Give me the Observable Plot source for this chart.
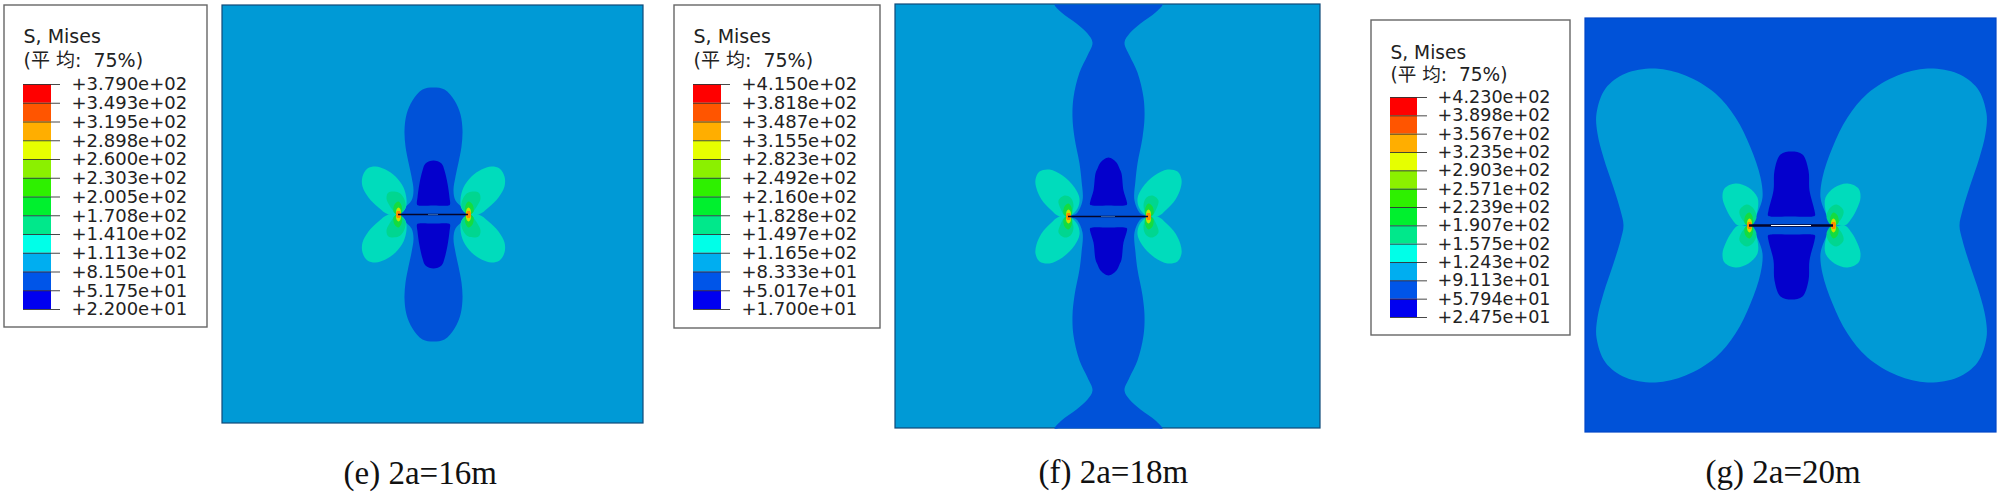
<!DOCTYPE html>
<html>
<head>
<meta charset="utf-8">
<script src="https://cdn.jsdelivr.net/npm/d3@7"></script>
<script src="https://cdn.jsdelivr.net/npm/@observablehq/plot@0.6"></script>
<style>html,body{margin:0;padding:0;background:#fff;overflow:hidden}svg{display:block}</style>
</head>
<body>
<div id="chart"></div>
<script>
// Legend values
const labelsE = ["+3.790e+02","+3.493e+02","+3.195e+02","+2.898e+02","+2.600e+02","+2.303e+02","+2.005e+02","+1.708e+02","+1.410e+02","+1.113e+02","+8.150e+01","+5.175e+01","+2.200e+01"];
const labelsF = ["+4.150e+02","+3.818e+02","+3.487e+02","+3.155e+02","+2.823e+02","+2.492e+02","+2.160e+02","+1.828e+02","+1.497e+02","+1.165e+02","+8.333e+01","+5.017e+01","+1.700e+01"];
const labelsG = ["+4.230e+02","+3.898e+02","+3.567e+02","+3.235e+02","+2.903e+02","+2.571e+02","+2.239e+02","+1.907e+02","+1.575e+02","+1.243e+02","+9.113e+01","+5.794e+01","+2.475e+01"];
const bandColors = ["#FF0000","#FF5500","#FFAE00","#E6FF00","#8BF000","#2EF000","#00F02E","#00E88B","#00FFE8","#00AEF0","#0055E8","#0000F0"];

// Contour outlines: offsets from the crack centre.
// Upper-right quadrant only; the field is mirrored about the crack and its normal.
const blueE = [[0,-127],[11,-125],[21,-114],[27,-100],[29,-84],[28,-68],[25,-52],[22,-38],[20,-24],[22,-14],[30,-6],[36,0]];
const deepE = [[0,-54],[8,-51],[11,-44],[14,-31],[16,-17],[16.5,-10],[15,-9],[0,-9]];
const lobeE = [[45,0],[55,-7],[65,-17],[71,-28],[71,-38],[66,-46],[58,-48],[48,-45],[38,-38],[30,-27],[27,-15],[28,-6],[33,-1]];
const greenE = [[35,0],[28,-7],[30,-17],[35,-22],[45,-22],[47,-16],[42,-6],[37,0]];

const blueF = [[0,-212],[30,-212],[50,-212],[54,-212],[47,-204],[32,-193],[21,-183],[16,-174],[21,-161],[29,-144],[35,-119],[36,-99],[34,-79],[29,-53],[27,-36],[26,-16],[32,-3],[40,0]];
const deepF = [[0,-59],[8,-54],[11,-48],[13,-43],[15,-26],[18,-16],[18.5,-12],[16,-11],[0,-11]];
const lobeF = [[49,0],[58,-7],[67,-17],[72,-28],[73,-37],[69,-45],[59,-47],[46,-41],[34,-29],[29,-18],[31,-8],[38,-1]];
const greenF = [[39,0],[35,-11],[38,-19],[44,-21],[50,-16],[48,-8],[43,0]];

const bigG = [[168,0],[171,-15],[178,-38],[188,-68],[194,-92],[195,-112],[186,-137],[166,-152],[136,-157],[106,-150],[76,-132],[56,-108],[41,-78],[31,-48],[29,-28],[33,-15],[39,-3],[42,0]];
const deepG = [[0,-74],[11,-71],[17,-55],[18,-35],[23,-15],[23.5,-10],[21,-9],[0,-9]];
const lobeG = [[53,0],[60,-7],[66,-18],[69,-28],[67,-37],[56,-42],[43,-38],[34,-28],[34,-15],[38,-5]];
const greenG = [[40,0],[35,-8],[38,-17],[45,-21],[52,-15],[50,-7],[43,0]];

// Stress-concentration spots at the crack tip (offset from the tip, upper half)
const tipCore = [[-3,-1],[-3,-9],[0,-13],[4,-10],[5,-3],[2,0]];
const tipYellow = [[-2,0],[-2,-5],[0,-7],[2,-5],[2,0]];
const tipOrange = [[-1.5,3],[-1.5,-3],[1.5,-3],[1.5,3]];

const C = {bg:"#009AD6", blue:"#0052D8", deep:"#0400CC", lobe:"#00DCBC", green:"#00D690", core:"#14DC40", yellow:"#C8E400", orange:"#FF8A00", crack:"#05052A"};

const layout = [
  {frame:[222,643,5,423], c:[433,214], tip:35, pale:5, crackW:1.6, frameStroke:"#0F4A78",
   legend:{x0:4,x1:207,y0:5,y1:327,barX0:23,barX1:51,tickX:60,labelX:71,barY0:84,barY1:309,titleX:23,t1:42,t2:66,fs:18,ts:19}, labels:labelsE,
   caption:{text:"(e) 2a=16m",x:343,y:483}},
  {frame:[895,1320,4,428], c:[1108,216], tip:40, pale:7, crackW:1.6, frameStroke:"#0F4A78",
   legend:{x0:674,x1:880,y0:5,y1:328,barX0:693,barX1:721,tickX:730,labelX:741,barY0:84,barY1:309,titleX:693,t1:42,t2:66,fs:18,ts:19}, labels:labelsF,
   caption:{text:"(f) 2a=18m",x:1038,y:482}},
  {frame:[1585,1996,18,432], c:[1791,225], tip:42, pale:20, crackW:2.6, frameStroke:"#0046C8",
   legend:{x0:1371,x1:1570,y0:20,y1:335,barX0:1390,barX1:1417,tickX:1427,labelX:1437,barY0:97,barY1:317,titleX:1390,t1:58,t2:80,fs:17.6,ts:18.6}, labels:labelsG,
   caption:{text:"(g) 2a=20m",x:1705,y:482}}
];

// Mirror helpers
const flipY = q => q.filter(p => p[1] !== 0).map(([a,b]) => [a,-b]).reverse();
const flipX = q => q.filter(p => p[0] !== 0).map(([a,b]) => [-a,b]).reverse();
const quad = q => { const r = q.concat(flipY(q)); return r.concat(flipX(r)); };
const halfX = q => q.concat(flipX(q));

const smooth = "catmull-rom-closed";
function blob(points, c, fill, curve = smooth) {
  return Plot.line(points, {x: p => p[0] + c[0], y: p => p[1] + c[1], fill, stroke: "none", curve});
}
function lobeSet(q, c, fill) {
  const top = q, bot = q.map(([a,b]) => [a,-b]);
  return [top, bot, top.map(([a,b]) => [-a,b]), bot.map(([a,b]) => [-a,b])].map(s => blob(s, c, fill));
}
function tipSet(q, c, tip, fill) {
  const marks = [];
  for (const sx of [1,-1]) for (const sy of [1,-1])
    marks.push(blob(q.map(([a,b]) => [sx*(a+tip), sy*b]), c, fill));
  return marks;
}

function panel(p, shapes) {
  const c = p.c;
  const m = [];
  m.push(Plot.rect([p.frame], {x1:d=>d[0], x2:d=>d[1], y1:d=>d[2], y2:d=>d[3], fill: shapes.base, stroke:p.frameStroke, strokeWidth:1.2}));
  m.push(...shapes.fields);
  // deep blue wedges above and below the crack
  m.push(blob(halfX(shapes.deep), c, C.deep));
  m.push(blob(halfX(shapes.deep).map(([a,b]) => [a,-b]), c, C.deep));
  m.push(...lobeSet(shapes.lobe, c, C.lobe));
  m.push(...lobeSet(shapes.green, c, C.green));
  m.push(...tipSet(tipCore, c, p.tip, C.core));
  m.push(...tipSet(tipYellow, c, p.tip, C.yellow));
  m.push(...tipSet(tipOrange, c, p.tip, C.orange));
  // crack
  m.push(Plot.ruleY([c[1]], {x1:c[0]-p.tip, x2:c[0]+p.tip, stroke:C.crack, strokeWidth:p.crackW}));
  m.push(Plot.ruleY([c[1]], {x1:c[0]-p.pale, x2:c[0]+p.pale, stroke: p.pale > 10 ? "#ffffff" : "#4A7FC8", strokeWidth:p.pale > 10 ? 1 : 0.7}));
  return m;
}

function legend(p) {
  const L = p.legend, n = bandColors.length, h = (L.barY1 - L.barY0) / n;
  const font = "'DejaVu Sans', 'Noto Sans CJK SC', sans-serif";
  const bands = bandColors.map((col,i) => ({col, y0:L.barY0 + i*h, y1:L.barY0 + (i+1)*h}));
  const ticks = p.labels.map((t,i) => ({t, y:L.barY0 + i*h}));
  return [
    Plot.rect([L], {x1:L.x0, x2:L.x1, y1:L.y0, y2:L.y1, fill:"#fff", stroke:"#666", strokeWidth:1.4}),
    Plot.text(["S, Mises"], {x:L.titleX, y:L.t1, text:d=>d, textAnchor:"start", lineAnchor:"bottom", fontFamily:font, fontSize:L.ts, fill:"#222"}),
    Plot.text(["(平 均:  75%)"], {x:L.titleX, y:L.t2, text:d=>d, textAnchor:"start", lineAnchor:"bottom", fontFamily:font, fontSize:L.ts, fill:"#222", style:"white-space:pre"}),
    Plot.rect(bands, {x1:L.barX0, x2:L.barX1, y1:"y0", y2:"y1", fill:"col"}),
    Plot.ruleY(ticks, {y:"y", x1:L.barX0, x2:L.tickX, stroke:"#333", strokeWidth:0.9}),
    Plot.text(ticks, {x:L.labelX, y:"y", text:"t", textAnchor:"start", fontFamily:font, fontSize:L.fs, fill:"#222"})
  ];
}

function caption(p) {
  return Plot.text([p.caption.text], {x:p.caption.x, y:p.caption.y, text:d=>d, textAnchor:"start", lineAnchor:"bottom",
    fontFamily:"'Liberation Serif', serif", fontSize:33, fill:"#111"});
}

const marks = [
  ...layout.flatMap(legend),
  ...panel(layout[0], {base:C.bg, fields:[blob(quad(blueE), layout[0].c, C.blue)], deep:deepE, lobe:lobeE, green:greenE}),
  ...panel(layout[1], {base:C.bg, fields:[blob(quad(blueF), layout[1].c, C.blue)], deep:deepF, lobe:lobeF, green:greenF}),
  ...panel(layout[2], {base:C.blue, fields:[
      blob(bigG.concat(flipY(bigG)), layout[2].c, C.bg),
      blob(bigG.concat(flipY(bigG)).map(([a,b]) => [-a,b]), layout[2].c, C.bg)], deep:deepG, lobe:lobeG, green:greenG}),
  ...layout.map(caption)
];

const chart = Plot.plot({
  width:2000, height:492, margin:0,
  style:{background:"#fff"},
  x:{domain:[0,2000], range:[0,2000], axis:null},
  y:{domain:[0,492], range:[0,492], axis:null},
  marks
});
document.getElementById("chart").appendChild(chart);
</script>
</body>
</html>
